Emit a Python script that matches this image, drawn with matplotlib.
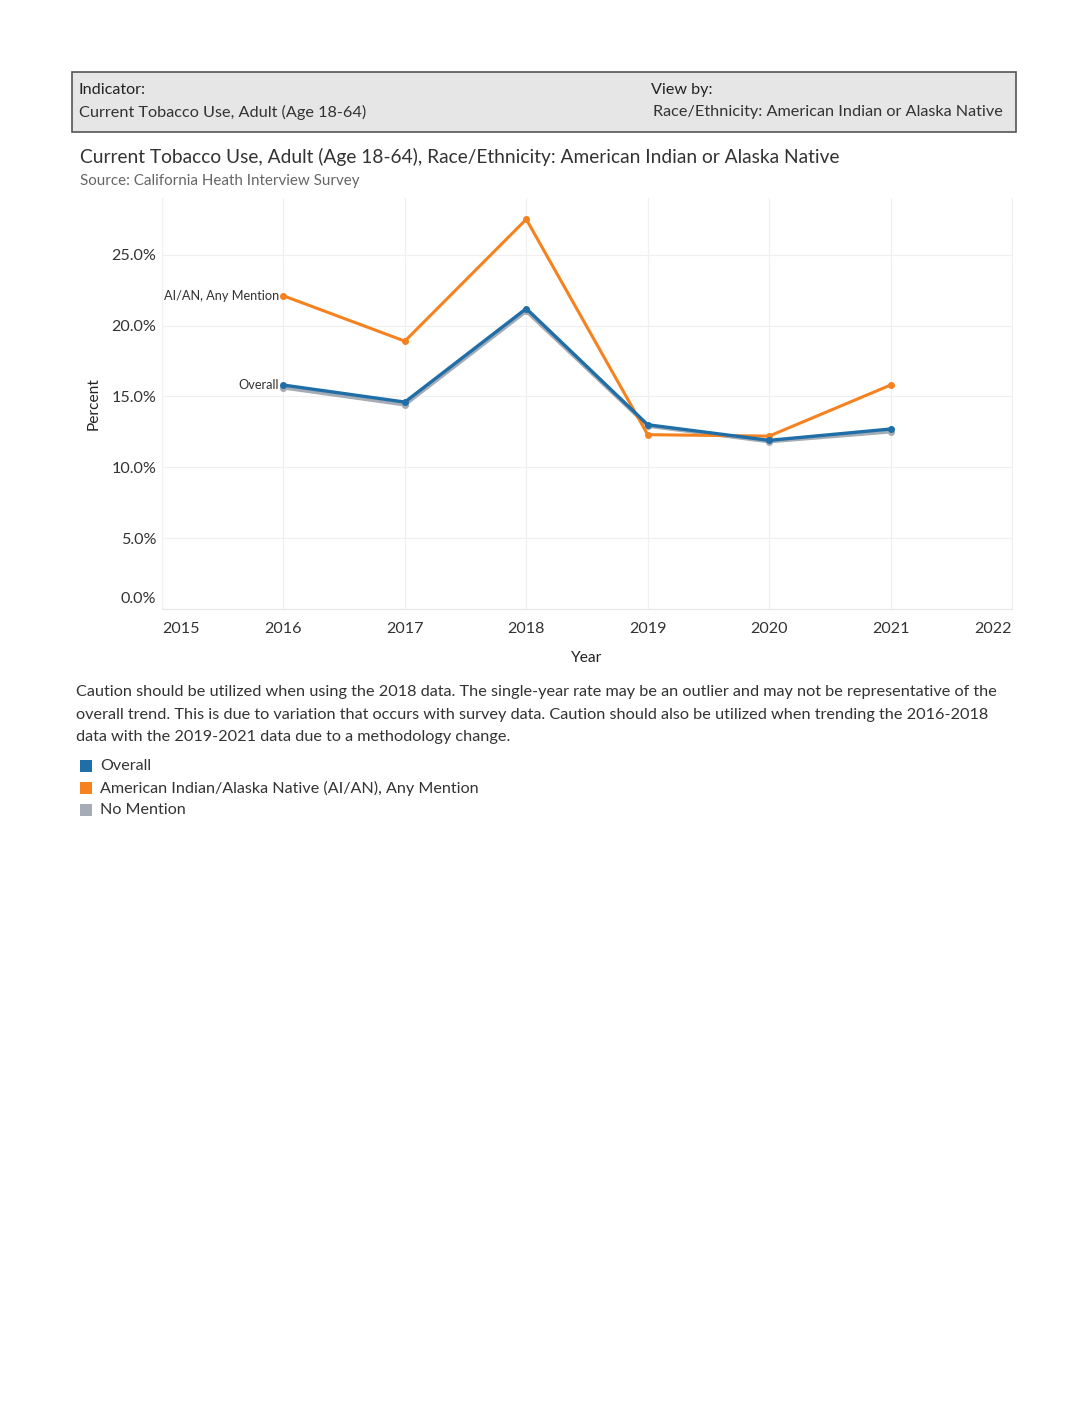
import matplotlib
matplotlib.use("Agg")
import matplotlib.pyplot as plt
from matplotlib.patches import Rectangle
from matplotlib.ticker import FuncFormatter

plt.rcParams['font.family'] = ['Lato', 'DejaVu Sans']

years = [2016, 2017, 2018, 2019, 2020, 2021]
overall = [15.8, 14.6, 21.2, 13.0, 11.9, 12.7]
aian_any = [22.1, 18.9, 27.5, 12.3, 12.2, 15.8]
no_mention = [15.6, 14.4, 21.0, 12.9, 11.8, 12.5]
yticks = [0, 5, 10, 15, 20, 25]
xticks = [2015, 2016, 2017, 2018, 2019, 2020, 2021, 2022]

BLUE = '#1f6ea7'
ORANGE = '#f5821f'
GRAY = '#a5acb5'
TXT = '#333333'

W, H = 1088, 1408
fig = plt.figure(figsize=(W / 100, H / 100), dpi=100)

def fx(x):
    return x / W

def fy(y):
    return 1 - y / H

# header box
fig.patches.append(Rectangle((fx(72), fy(132)), fx(1016) - fx(72), fy(72) - fy(132),
                             transform=fig.transFigure, facecolor='#e6e6e6',
                             edgecolor='#555555', linewidth=1.2))
fig.text(fx(78), fy(90), 'Indicator:', fontsize=11.6, color='#222222', va='center')
fig.text(fx(79), fy(112), 'Current Tobacco Use, Adult (Age 18-64)', fontsize=11.7, color=TXT, va='center')
fig.text(fx(651), fy(90), 'View by:', fontsize=11.6, color='#222222', va='center')
fig.text(fx(653), fy(112), 'Race/Ethnicity: American Indian or Alaska Native', fontsize=11.7, color=TXT, va='center')

fig.text(fx(80), fy(157), 'Current Tobacco Use, Adult (Age 18-64), Race/Ethnicity: American Indian or Alaska Native',
         fontsize=13.8, color=TXT, va='center')
fig.text(fx(80), fy(181), 'Source: California Heath Interview Survey', fontsize=10.9, color='#666666', va='center')

ax = fig.add_axes([fx(162), fy(609), fx(1012) - fx(162), fy(198) - fy(609)])
ax.set_xlim(2015, 2022)
ax.set_ylim(0, 29)

ax.plot(years, no_mention, color=GRAY, lw=2.4, marker='o', ms=4, zorder=3)
ax.plot(years, aian_any, color=ORANGE, lw=2.2, marker='o', ms=4, zorder=4)
ax.plot(years, overall, color=BLUE, lw=2.4, marker='o', ms=4, zorder=5)

ax.set_yticks(yticks)
ax.yaxis.set_major_formatter(FuncFormatter(lambda v, p: '' if v == 0 else f'{v:.1f}%'))
ax.set_xticks(xticks)
ax.set_xticklabels([str(x) for x in xticks])
ax.grid(True, color='#f0f0f0', lw=0.9)
ax.set_axisbelow(True)
ax.spines['top'].set_visible(False)
ax.spines['left'].set_color('#f0f0f0')
ax.spines['bottom'].set_color('#e6e6e6')
ax.spines['right'].set_color('#f0f0f0')
ax.tick_params(axis='y', length=0, labelsize=11.6, colors=TXT, pad=4)
ax.tick_params(axis='x', length=0, labelsize=11.6, colors=TXT, pad=9)
labs = ax.get_xticklabels()
labs[0].set_horizontalalignment('left')
labs[-1].set_horizontalalignment('right')
ax.annotate('0.0%', xy=(0, 0), xycoords=('axes fraction', 'data'), xytext=(-4, 7),
            textcoords='offset points', ha='right', va='center', fontsize=11.6, color=TXT)
ax.set_ylabel('Percent', fontsize=11.2, color='#222222', labelpad=8)
ax.set_xlabel('Year', fontsize=11.2, color='#222222', labelpad=11)

ax.annotate('AI/AN, Any Mention', (years[0], aian_any[0]), xytext=(-3, 0), textcoords='offset points',
            ha='right', va='center', fontsize=9.2, color=TXT)
ax.annotate('Overall', (years[0], overall[0]), xytext=(-3, 0), textcoords='offset points',
            ha='right', va='center', fontsize=9.2, color=TXT)

caution = ("Caution should be utilized when using the 2018 data. The single-year rate may be an outlier and may not be representative of the\n"
           "overall trend. This is due to variation that occurs with survey data. Caution should also be utilized when trending the 2016-2018\n"
           "data with the 2019-2021 data due to a methodology change.")
for i, line in enumerate(caution.split('\n')):
    fig.text(fx(76), fy(692 + i * 22.5), line, fontsize=11.7, color=TXT, va='center')

legend_items = [('Overall', BLUE), ('American Indian/Alaska Native (AI/AN), Any Mention', ORANGE), ('No Mention', GRAY)]
for i, (name, col) in enumerate(legend_items):
    yc = 766 + i * 22
    fig.patches.append(Rectangle((fx(80), fy(yc + 6)), fx(12), fy(0) - fy(12),
                                 transform=fig.transFigure, facecolor=col, edgecolor='none'))
    fig.text(fx(100), fy(yc), name, fontsize=11.6, color=TXT, va='center')

fig.savefig('out.png', dpi=100, facecolor='white')
